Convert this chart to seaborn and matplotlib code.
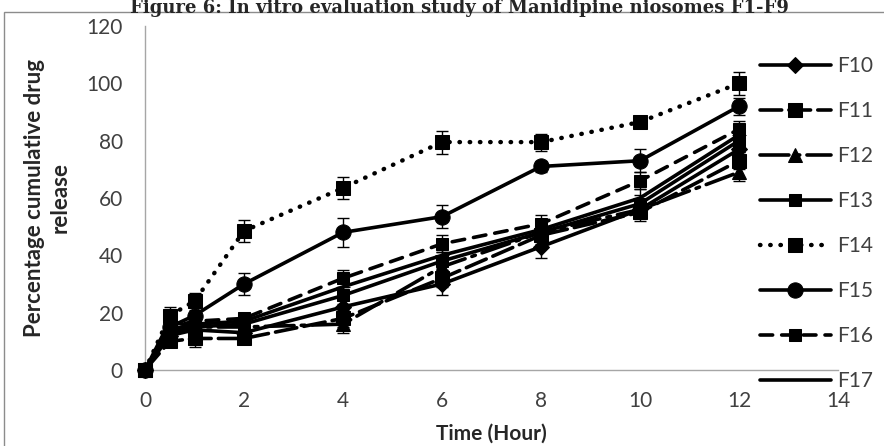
import matplotlib
matplotlib.use("Agg")
import matplotlib.pyplot as plt
import matplotlib.patches as mpatches
import seaborn as sns
import numpy as np

time = [0, 0.5, 1, 2, 4, 6, 8, 10, 12]
F10 = [0, 12, 14, 13, 22, 30, 43, 56, 77]
F11 = [0, 10, 11, 11, 18, 32, 47, 55, 73]
F12 = [0, 13, 15, 15, 16, 36, 48, 56, 69]
F13 = [0, 17, 15, 16, 26, 38, 48, 58, 80]
F14 = [0, 19, 24, 48.5, 63.5, 79.5, 79.5, 86.5, 100]
F15 = [0, 15, 19, 30, 48, 53.5, 71, 73, 92]
F16 = [0, 15, 17, 18, 32, 44, 51, 66, 84]
F17 = [0, 14, 16, 17, 29, 40, 49, 60, 82]

E10 = [0, 2, 3, 2, 3, 4, 4, 3, 3]
E11 = [0, 2, 3, 2, 3, 3, 3, 3, 3]
E12 = [0, 2, 2, 2, 3, 3, 3, 3, 3]
E13 = [0, 2, 3, 2, 3, 3, 3, 3, 4]
E14 = [0, 3, 3, 4, 4, 4, 3, 2, 4]
E15 = [0, 2, 3, 4, 5, 4, 2, 4, 3]
E16 = [0, 2, 3, 2, 3, 3, 3, 3, 3]
E17 = [0, 2, 3, 2, 3, 3, 3, 3, 3]

names = ["F10", "F11", "F12", "F13", "F14", "F15", "F16", "F17"]
series = [F10, F11, F12, F13, F14, F15, F16, F17]
errs = [E10, E11, E12, E13, E14, E15, E16, E17]

sns.set_theme(style="white")
plt.rcParams['font.family'] = ['Lato', 'DejaVu Sans']

fig = plt.figure(figsize=(8.84, 4.46), dpi=100)
ax = fig.add_axes([145/884, 1-370/446, (838-145)/884, (370-26)/446])

styles = [
    dict(marker='D', markersize=8, linestyle='-'),
    dict(marker='s', markersize=10, linestyle=(0, (6, 2))),
    dict(marker='^', markersize=10, linestyle=(0, (8, 2, 1, 2))),
    dict(marker='s', markersize=8, linestyle='-'),
    dict(marker='s', markersize=10, linestyle=(0, (0.1, 2.2))),
    dict(marker='o', markersize=11, linestyle='-'),
    dict(marker='s', markersize=9, linestyle=(0, (3.5, 2.5))),
    dict(marker='_', markersize=10, linestyle='-'),
]

for name, vals, err, st in zip(names, series, errs, styles):
    ax.errorbar(time, vals, yerr=err, fmt='none', ecolor='black', elinewidth=1,
                capsize=4, capthick=1, zorder=2)
    lw = 2.6
    if name == "F14":
        lw = 3.2
    sns.lineplot(x=time, y=vals, ax=ax, color='black', label=name,
                 linewidth=lw, dash_capstyle='round', solid_capstyle='round',
                 markeredgecolor='black', markerfacecolor='black', zorder=3,
                 clip_on=False, **st)

ax.set_xlim(0, 14)
ax.set_ylim(0, 120)
ax.set_xticks(range(0, 15, 2))
ax.set_yticks(range(0, 121, 20))
for s in ['top', 'right']:
    ax.spines[s].set_visible(False)
for s in ['left', 'bottom']:
    ax.spines[s].set_color('#a6a6a6')
    ax.spines[s].set_linewidth(1)
ax.tick_params(axis='both', which='major', direction='out', length=5,
               color='#a6a6a6', labelsize=15, labelcolor='#404040')
ax.tick_params(axis='y', pad=11)
ax.tick_params(axis='x', pad=10)

ax.set_xlabel("Time (Hour)", fontsize=15, fontweight='bold', labelpad=9)
ax.set_ylabel("Percentage cumulative drug\nrelease", fontsize=16,
              fontweight='bold', labelpad=11, linespacing=1.3)

leg = ax.legend(loc='upper left', bbox_to_anchor=(760/884, 1-56/446),
                bbox_transform=fig.transFigure, frameon=False, fontsize=15,
                handlelength=3.4, handletextpad=0.3, labelspacing=1.2,
                borderpad=0, borderaxespad=0)
for t in leg.get_texts():
    t.set_color('#404040')

fig.text(0.52, 1-13/446, "Figure 6: In vitro evaluation study of Manidipine niosomes F1-F9",
         ha='center', va='baseline', fontsize=13, fontweight='bold',
         family=['DejaVu Serif'])

fig.patches.append(mpatches.Rectangle((4/884, -0.1), 1.2, 1.1 - 12/446,
                                      transform=fig.transFigure, fill=False,
                                      edgecolor='#8c8c8c', linewidth=1))

fig.savefig("out.png", dpi=100)
